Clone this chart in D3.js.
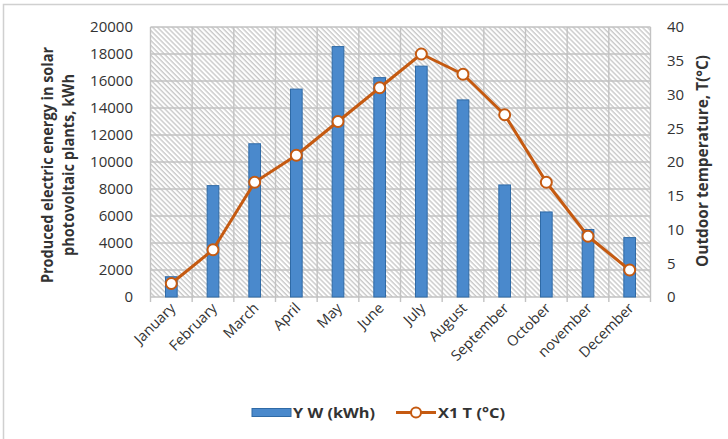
<!DOCTYPE html>
<html>
<head>
<meta charset="utf-8">
<script src="https://cdn.jsdelivr.net/npm/d3@7"></script>
<style>
  html, body { margin: 0; padding: 0; background: #fff; }
  svg { display: block; }
  text { font-family: "Open Sans", "Noto Sans", sans-serif; fill: #333; }
</style>
</head>
<body>
<svg id="chart" width="728" height="439"></svg>
<script>
// Monthly solar output and outdoor temperature
const months = ["January", "February", "March", "April", "May", "June",
                "July", "August", "September", "October", "november", "December"];
const energyKWh = [1500, 8250, 11350, 15400, 18550, 16250, 17100, 14600, 8300, 6300, 5000, 4400];
const temperatureC = [2, 7, 17, 21, 26, 31, 36, 33, 27, 17, 9, 4];
const energyTicks = [0, 2000, 4000, 6000, 8000, 10000, 12000, 14000, 16000, 18000, 20000];
const tempTicks = [0, 5, 10, 15, 20, 25, 30, 35, 40];
const seriesNames = ["Y W (kWh)", "X1 T (°C)"];

const plot = { left: 150.5, right: 650.5, top: 27, bottom: 297 };

const svg = d3.select("#chart");
const BAR_FILL = "#4a89cc", BAR_STROKE = "#2f6aa6", LINE = "#c55a11", GRID = "#c2c2c2";

// Chart frame
svg.append("rect").attr("x", 3.5).attr("y", 4.5).attr("width", 900).attr("height", 900)
  .attr("fill", "none").attr("stroke", "#d0d0d0").attr("stroke-width", 1.5);

// Diagonal hatch used as plot background
const defs = svg.append("defs");
const pat = defs.append("pattern").attr("id", "hatch")
  .attr("patternUnits", "userSpaceOnUse").attr("width", 3.5).attr("height", 3.5)
  .attr("patternTransform", "rotate(-45)");
pat.append("rect").attr("width", 3.5).attr("height", 3.5).attr("fill", "#fff");
pat.append("line").attr("x1", 1).attr("y1", 0).attr("x2", 1).attr("y2", 3.5)
  .attr("stroke", "#b4b4b4").attr("stroke-width", 1);

// Scales
const x = d3.scaleBand().domain(months).range([plot.left, plot.right])
  .paddingInner(0.72).paddingOuter(0.36);
const xCat = d3.scaleBand().domain(months).range([plot.left, plot.right]).padding(0);
const yL = d3.scaleLinear().domain([0, 20000]).range([plot.bottom, plot.top]);
const yR = d3.scaleLinear().domain([0, 40]).range([plot.bottom, plot.top]);

svg.append("rect").attr("x", plot.left).attr("y", plot.top)
  .attr("width", plot.right - plot.left).attr("height", plot.bottom - plot.top)
  .attr("fill", "url(#hatch)");

// Gridlines
const grid = svg.append("g").attr("stroke", GRID).attr("stroke-width", 1.4);
grid.selectAll("line.h").data(energyTicks).join("line")
  .attr("x1", plot.left).attr("x2", plot.right)
  .attr("y1", d => yL(d)).attr("y2", d => yL(d));
const bounds = months.map(m => xCat(m)).concat([plot.right]);
grid.selectAll("line.v").data(bounds).join("line")
  .attr("x1", d => d).attr("x2", d => d)
  .attr("y1", plot.top).attr("y2", plot.bottom + 5);

// Bars
svg.append("g").selectAll("rect").data(energyKWh).join("rect")
  .attr("x", (d, i) => x(months[i]))
  .attr("width", x.bandwidth())
  .attr("y", d => yL(d))
  .attr("height", d => yL(0) - yL(d))
  .attr("fill", BAR_FILL).attr("stroke", BAR_STROKE).attr("stroke-width", 1);

// Temperature line with markers
const cx = i => x(months[i]) + x.bandwidth() / 2;
const line = d3.line().x((d, i) => cx(i)).y(d => yR(d));
svg.append("path").datum(temperatureC).attr("d", line)
  .attr("fill", "none").attr("stroke", LINE).attr("stroke-width", 3).attr("stroke-linejoin", "round");
svg.append("g").selectAll("circle").data(temperatureC).join("circle")
  .attr("cx", (d, i) => cx(i)).attr("cy", d => yR(d)).attr("r", 5.5)
  .attr("fill", "#fff").attr("stroke", LINE).attr("stroke-width", 2);

// Left axis labels
const axL = svg.append("g").attr("transform", `translate(${plot.left},0)`)
  .call(d3.axisLeft(yL).tickValues(energyTicks).tickSize(0).tickPadding(17.5).tickFormat(d3.format("d")));
axL.select(".domain").remove();
axL.selectAll("text").style("font-size", "15px").attr("fill", "#333");

// Right axis labels
const axR = svg.append("g").attr("transform", `translate(${plot.right},0)`)
  .call(d3.axisRight(yR).tickValues(tempTicks).tickSize(0).tickPadding(16.5).tickFormat(d3.format("d")));
axR.select(".domain").remove();
axR.selectAll("text").style("font-size", "15px").attr("fill", "#333");

// Category labels, slanted
const axB = svg.append("g").attr("transform", `translate(0,${plot.bottom})`)
  .call(d3.axisBottom(xCat).tickSize(0).tickPadding(0));
axB.select(".domain").remove();
axB.selectAll("text")
  .style("font-size", "14.5px").attr("fill", "#333")
  .attr("text-anchor", "end")
  .attr("dy", 0).attr("y", 0)
  .attr("transform", "translate(5,12) rotate(-45)");

// Axis titles
const titleL = svg.append("g").attr("transform", "translate(53,165) rotate(-90)");
titleL.append("text").attr("text-anchor", "middle").attr("font-weight", "bold")
  .style("font-size", "15.5px").attr("textLength", 236).attr("lengthAdjust", "spacingAndGlyphs")
  .attr("fill", "#222").text("Produced electric energy in solar");
titleL.append("text").attr("text-anchor", "middle").attr("font-weight", "bold").attr("y", 21)
  .style("font-size", "15.5px").attr("textLength", 182).attr("lengthAdjust", "spacingAndGlyphs")
  .attr("fill", "#222").text("photovoltaic plants, kWh");
svg.append("text").attr("transform", "translate(708,161) rotate(-90)")
  .attr("text-anchor", "middle").attr("font-weight", "bold")
  .style("font-size", "15.5px").attr("textLength", 212).attr("lengthAdjust", "spacingAndGlyphs")
  .attr("fill", "#222").text("Outdoor temperature, T(°C)");

// Legend
const lg = svg.append("g");
lg.append("rect").attr("x", 252).attr("y", 408.5).attr("width", 39).attr("height", 8)
  .attr("fill", BAR_FILL).attr("stroke", BAR_STROKE).attr("stroke-width", 1);
lg.append("text").attr("x", 293).attr("y", 418).attr("font-weight", "bold")
  .style("font-size", "14.5px").attr("textLength", 82).attr("lengthAdjust", "spacingAndGlyphs")
  .attr("fill", "#222").text(seriesNames[0]);
lg.append("line").attr("x1", 396).attr("x2", 436).attr("y1", 412.5).attr("y2", 412.5)
  .attr("stroke", LINE).attr("stroke-width", 3);
lg.append("circle").attr("cx", 416).attr("cy", 412.5).attr("r", 5)
  .attr("fill", "#fff").attr("stroke", LINE).attr("stroke-width", 2);
lg.append("text").attr("x", 438).attr("y", 418).attr("font-weight", "bold")
  .style("font-size", "14.5px").attr("textLength", 67).attr("lengthAdjust", "spacingAndGlyphs")
  .attr("fill", "#222").text(seriesNames[1]);
</script>
</body>
</html>
